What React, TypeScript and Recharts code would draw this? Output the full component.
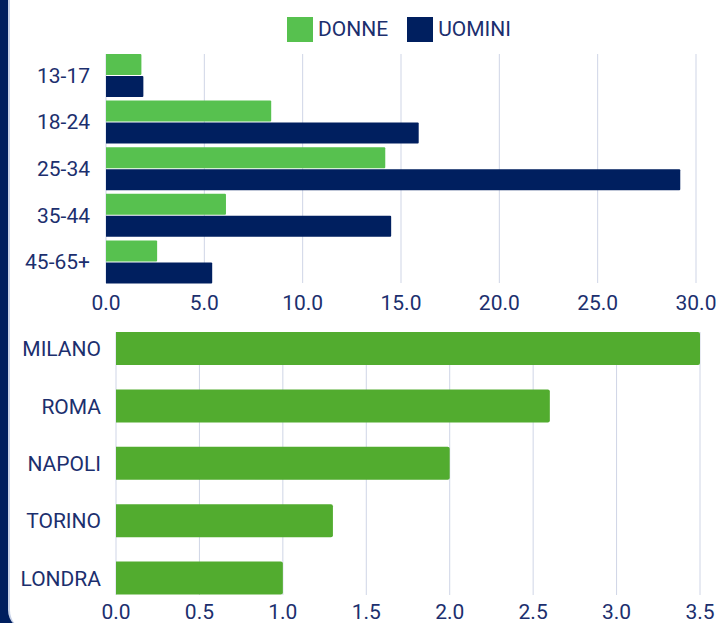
import { Bar, BarChart, CartesianGrid, Legend, XAxis, YAxis } from "recharts";

// fasce d'età
const ageGroups = ["13-17", "18-24", "25-34", "35-44", "45-65+"];
const donne = [1.8, 8.4, 14.2, 6.1, 2.6];
const uomini = [1.9, 15.9, 29.2, 14.5, 5.4];
const ageTicks = [0, 5, 10, 15, 20, 25, 30];

// città
const cities = ["MILANO", "ROMA", "NAPOLI", "TORINO", "LONDRA"];
const cityValues = [3.5, 2.6, 2.0, 1.3, 1.0];
const cityTicks = [0, 0.5, 1, 1.5, 2, 2.5, 3, 3.5];

const NAVY = "#001f5f";
const GREEN = "#57c14f";
const GREEN_DARK = "#52ac2f";
const TEXT = "#1c2f6e";
const GRID = "#cfd5e6";

const ageData = ageGroups.map((g, i) => ({ group: g, donne: donne[i], uomini: uomini[i] }));
const cityData = cities.map((c, i) => ({ city: c, value: cityValues[i] }));

const tickStyle = { fill: TEXT, fontSize: 21 };

function LegendBox() {
  const items = [
    { label: "DONNE", color: GREEN },
    { label: "UOMINI", color: NAVY },
  ];
  return (
    <div style={{ display: "flex", alignItems: "center" }}>
      {items.map((it) => (
        <div key={it.label} style={{ display: "flex", alignItems: "center", marginRight: 19 }}>
          <div style={{ width: 26, height: 25, background: it.color, marginRight: 5 }} />
          <span style={{ color: TEXT, fontSize: 21, lineHeight: "25px" }}>{it.label}</span>
        </div>
      ))}
    </div>
  );
}

export default function App() {
  return (
    <div
      style={{
        position: "absolute",
        left: 0,
        top: 0,
        width: 723,
        height: 623,
        overflow: "hidden",
        background: NAVY,
        fontFamily: "Roboto, sans-serif",
      }}
    >
      <div
        style={{
          position: "absolute",
          left: 8,
          top: -20,
          width: 760,
          height: 650,
          background: "#fff",
          borderLeft: "2px solid #c9d3e8",
          borderBottomLeftRadius: 20,
        }}
      />
      <div style={{ position: "absolute", left: 0, top: 0 }}>
        <BarChart
          width={723}
          height={320}
          data={ageData}
          layout="vertical"
          margin={{ top: 54, right: 27, bottom: 0, left: 0 }}
          barSize={21}
          barGap={1}
        >
          <CartesianGrid horizontal={false} stroke={GRID} />
          <XAxis
            type="number"
            domain={[0, 30]}
            ticks={ageTicks}
            tickFormatter={(v) => v.toFixed(1)}
            axisLine={false}
            tickLine={false}
            tickSize={0}
            tickMargin={12}
            height={37}
            tick={tickStyle}
            interval={0}
          />
          <YAxis
            type="category"
            dataKey="group"
            axisLine={false}
            tickLine={false}
            tickSize={0}
            tickMargin={16}
            width={106}
            tick={tickStyle}
            padding={{ top: -2, bottom: -2 }}
          />
          <Legend
            layout="horizontal"
            verticalAlign="middle"
            align="center"
            content={() => <LegendBox />}
            wrapperStyle={{ top: 17, left: 287, width: "auto" }}
          />
          <Bar dataKey="donne" name="DONNE" fill={GREEN} radius={[0, 1, 1, 0]} isAnimationActive={false} />
          <Bar dataKey="uomini" name="UOMINI" fill={NAVY} radius={[0, 1, 1, 0]} isAnimationActive={false} />
        </BarChart>
      </div>
      <div style={{ position: "absolute", left: 0, top: 318 }}>
        <BarChart
          width={723}
          height={305}
          data={cityData}
          layout="vertical"
          margin={{ top: 14, right: 23, bottom: 0, left: 0 }}
          barSize={33}
        >
          <CartesianGrid horizontal={false} stroke={GRID} />
          <XAxis
            type="number"
            domain={[0, 3.5]}
            ticks={cityTicks}
            tickFormatter={(v) => v.toFixed(1)}
            axisLine={false}
            tickLine={false}
            tickSize={0}
            tickMargin={9}
            height={28}
            tick={tickStyle}
            interval={0}
          />
          <YAxis
            type="category"
            dataKey="city"
            axisLine={false}
            tickLine={false}
            tickSize={0}
            tickMargin={15}
            width={116}
            tick={tickStyle}
            padding={{ top: -12, bottom: -12 }}
          />
          <Bar dataKey="value" fill={GREEN_DARK} radius={[0, 2, 2, 0]} isAnimationActive={false} />
        </BarChart>
      </div>
    </div>
  );
}
